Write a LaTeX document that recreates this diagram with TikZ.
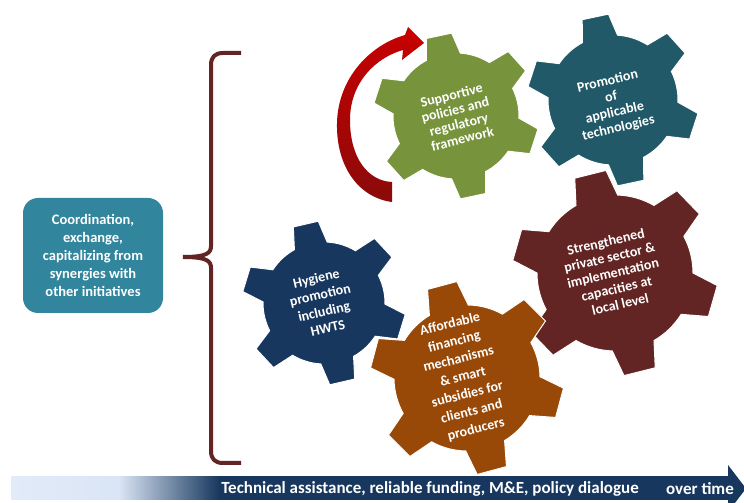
\documentclass[tikz,border=0pt]{standalone}
\usepackage{fontspec}
\setmainfont{Carlito}
\usetikzlibrary{calc}
\definecolor{ggreen}{HTML}{77933C}
\definecolor{gteal}{HTML}{215968}
\definecolor{gred}{HTML}{632523}
\definecolor{gnavy}{HTML}{17375E}
\definecolor{gorange}{HTML}{984807}
\definecolor{boxteal}{HTML}{31859C}
\definecolor{arrowred}{HTML}{C80000}
\definecolor{arrowdark}{HTML}{8B0A0A}
\definecolor{barlight}{HTML}{DAE5F5}
\definecolor{barlighter}{HTML}{E2EBF8}
\pgfdeclarehorizontalshading{barshade}{100bp}{color(0bp)=(barlighter); color(25bp)=(barlighter); color(32.5bp)=(barlight); color(39.5bp)=(gnavy); color(100bp)=(gnavy)}
\newcommand\drawgear[6]{% x y R r tilt color
  \begin{scope}[shift={(#1,#2)}]
    \fill[#6, draw=white, line width=1pt] (#5+90-16:#4)
      \foreach \k in {0,...,5}{
        -- (#5+90+60*\k-16:#4) -- (#5+90+60*\k-9:#3) -- (#5+90+60*\k+9:#3) -- (#5+90+60*\k+16:#4)
        arc[start angle=#5+90+60*\k+16, end angle=#5+90+60*\k+44, radius=#4pt]
      } -- cycle;
  \end{scope}}
\tikzset{
  gtext/.style={text=white, align=center, inner sep=0pt, font=\fontsize{14}{#1}\selectfont\bfseries},
  gtext/.default=16,
  bracestyle/.style={draw=gred, line width=4pt, line join=round},
  coordbox/.style={fill=boxteal, rounded corners=15pt, minimum width=140pt, minimum height=115pt, text=white, align=center, font=\fontsize{14.5}{18}\selectfont\bfseries},
  bartxt/.style={text=white, inner sep=0pt, font=\fontsize{17}{20}\selectfont\bfseries}
}
\begin{document}
\begin{tikzpicture}[x=1pt,y=1pt]
\useasboundingbox (0,0) rectangle (744,503);
\clip (0,0) rectangle (744,503);
\fill[white] (0,0) rectangle (744,503);

% brace
\draw[bracestyle] (241,450) -- (223,450) .. controls (215,450) and (211,446) .. (211,438) -- (211,257) .. controls (211,250) and (207,246) .. (183,246);
\draw[bracestyle] (183,246) .. controls (207,246) and (211,242) .. (211,235) -- (211,52) .. controls (211,44) and (215,40) .. (223,40) -- (241,40);

% left box
\node[coordbox] (coord) at (93,247.5) {Coordination,\\exchange,\\capitalizing from\\synergies with\\other initiatives};

% gears
\drawgear{324}{200}{82}{61}{13}{gnavy}
\drawgear{615}{230}{103}{78}{14}{gred}
\drawgear{467}{125}{97}{73}{15}{gorange}
\drawgear{613}{403}{86}{65}{12}{gteal}
\drawgear{456}{387}{83}{63}{12}{ggreen}

\node[gtext=17, rotate=13] (hyg) at (322,200) {Hygiene\\promotion\\including\\HWTS};
\node[gtext=16, rotate=13] (priv) at (613,230) {Strengthened\\private sector \&\\implementation\\capacities at\\local level};
\node[gtext=18, rotate=14] (fin) at (463,126) {Affordable\\financing\\mechanisms\\\& smart\\subsidies for\\clients and\\producers};
\node[gtext=16, rotate=13] (tech) at (613,398) {Promotion\\of\\applicable\\technologies};
\node[gtext=15, rotate=14] (pol) at (457,386) {Supportive\\policies and\\regulatory\\framework};

% red curved arrow
\shade[top color=arrowred, bottom color=arrowdark]
  (392,301) .. controls (360,305) and (336,335) .. (337,380)
  .. controls (338,425) and (370,458) .. (405,468)
  -- (408,476) -- (424,460) -- (402,443) -- (403,453)
  .. controls (375,445) and (350,420) .. (350,383)
  .. controls (350,345) and (368,322) .. (392,321) -- cycle;

% bottom arrow
\shade[shading=barshade] (11,3) rectangle (730,26);
\fill[gnavy] (728,38) -- (746,14.5) -- (728,-9) -- cycle;
\node[bartxt] (ta) at (430,14.5) {Technical assistance, reliable funding, M\&E, policy dialogue};
\node[bartxt] (ot) at (700,14.5) {over time};
\end{tikzpicture}
\end{document}
